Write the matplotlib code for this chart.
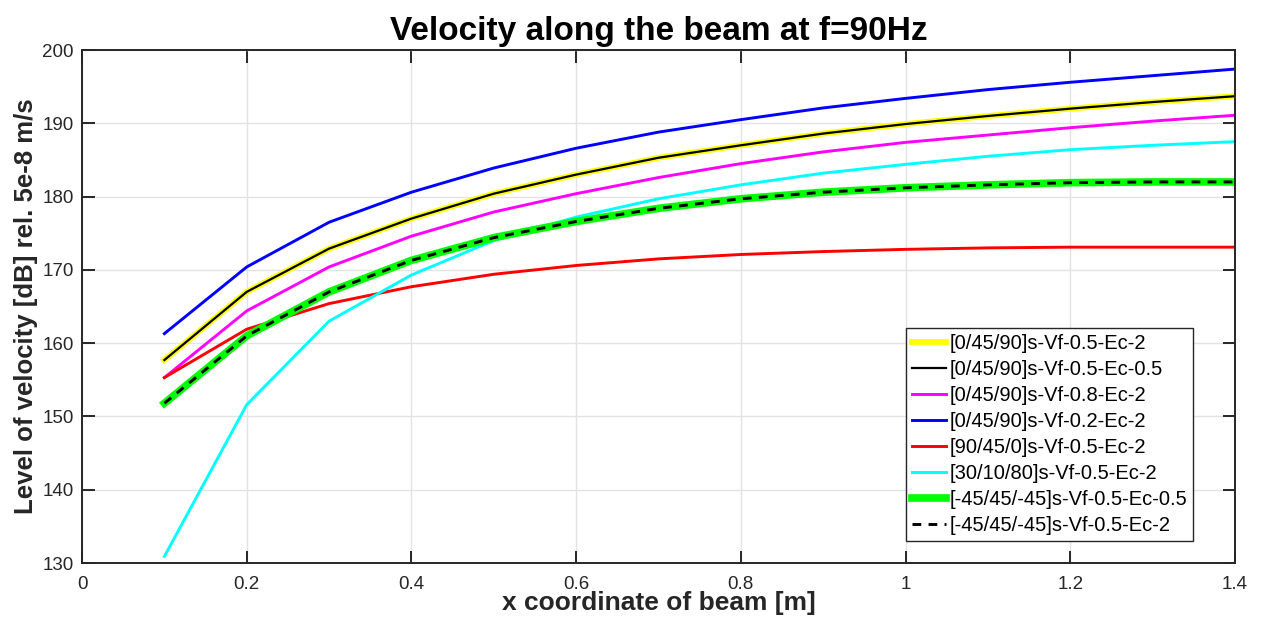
import matplotlib
matplotlib.use("Agg")
import matplotlib.pyplot as plt
from matplotlib.ticker import MultipleLocator

x = [0.1, 0.2, 0.3, 0.4, 0.5, 0.6, 0.7, 0.8, 0.9, 1.0, 1.1, 1.2, 1.3, 1.4]

v_0_45_90_vf05_ec2 = [157.7, 167.0, 172.9, 177.0, 180.4, 183.0, 185.3, 187.0, 188.6, 189.9, 191.0, 192.0, 192.9, 193.7]
v_0_45_90_vf05_ec05 = [157.7, 167.0, 172.9, 177.0, 180.4, 183.0, 185.3, 187.0, 188.6, 189.9, 191.0, 192.0, 192.9, 193.7]
v_0_45_90_vf08_ec2 = [155.3, 164.4, 170.4, 174.6, 177.9, 180.4, 182.6, 184.5, 186.1, 187.4, 188.4, 189.4, 190.3, 191.1]
v_0_45_90_vf02_ec2 = [161.3, 170.4, 176.5, 180.6, 183.9, 186.6, 188.8, 190.5, 192.1, 193.4, 194.6, 195.6, 196.5, 197.4]
v_90_45_0_vf05_ec2 = [155.3, 161.9, 165.4, 167.7, 169.4, 170.6, 171.5, 172.1, 172.5, 172.8, 173.0, 173.1, 173.1, 173.1]
v_30_10_80_vf05_ec2 = [130.9, 151.6, 163.0, 169.3, 174.0, 177.2, 179.7, 181.6, 183.2, 184.4, 185.5, 186.4, 187.0, 187.5]
v_m45_45_m45_vf05_ec05 = [151.8, 161.0, 167.0, 171.3, 174.4, 176.6, 178.4, 179.7, 180.6, 181.2, 181.6, 181.9, 182.0, 182.0]
v_m45_45_m45_vf05_ec2 = [151.8, 161.0, 167.0, 171.3, 174.4, 176.6, 178.4, 179.7, 180.6, 181.2, 181.6, 181.9, 182.0, 182.0]

labels = ["[0/45/90]s-Vf-0.5-Ec-2", "[0/45/90]s-Vf-0.5-Ec-0.5", "[0/45/90]s-Vf-0.8-Ec-2",
          "[0/45/90]s-Vf-0.2-Ec-2", "[90/45/0]s-Vf-0.5-Ec-2", "[30/10/80]s-Vf-0.5-Ec-2",
          "[-45/45/-45]s-Vf-0.5-Ec-0.5", "[-45/45/-45]s-Vf-0.5-Ec-2"]

plt.rcParams['font.family'] = ['Liberation Sans', 'DejaVu Sans']

dark = (0.15, 0.15, 0.15)
fig = plt.figure(figsize=(12.62, 6.23), dpi=100)
ax = fig.add_axes([0.065, 0.0963, 0.9136, 0.8234])

ax.plot(x, v_0_45_90_vf05_ec2, color=(1, 1, 0), lw=4.2, label=labels[0])
ax.plot(x, v_0_45_90_vf05_ec05, color='black', lw=1.6, label=labels[1])
ax.plot(x, v_0_45_90_vf08_ec2, color=(1, 0, 1), lw=2.1, label=labels[2])
ax.plot(x, v_0_45_90_vf02_ec2, color=(0, 0, 1), lw=2.1, label=labels[3])
ax.plot(x, v_90_45_0_vf05_ec2, color=(1, 0, 0), lw=2.1, label=labels[4])
ax.plot(x, v_30_10_80_vf05_ec2, color=(0, 1, 1), lw=2.1, label=labels[5])
ax.plot(x, v_m45_45_m45_vf05_ec05, color=(0, 1, 0), lw=5.5, label=labels[6])
ax.plot(x, v_m45_45_m45_vf05_ec2, color='black', lw=2.1, ls=(0, (3, 2.5)), label=labels[7])

ax.set_xlim(0, 1.4)
ax.set_ylim(130, 200)
ax.xaxis.set_major_locator(MultipleLocator(0.2))
ax.yaxis.set_major_locator(MultipleLocator(10))
ax.set_xticklabels([f"{v:g}" for v in ax.get_xticks()])
ax.grid(True, color=(0.89, 0.89, 0.89), lw=1.0)
ax.set_axisbelow(True)
ax.tick_params(direction='in', top=True, right=True, length=9, width=1.4,
               color=dark, labelsize=13.5, labelcolor=dark)
ax.tick_params(axis='x', pad=9)
ax.tick_params(axis='y', pad=6)
for s in ax.spines.values():
    s.set_color(dark)
    s.set_linewidth(1.4)

ax.set_title("Velocity along the beam at f=90Hz", fontsize=24, fontweight='bold', pad=7)
ax.set_xlabel("x coordinate of beam [m]", fontsize=19, fontweight='bold', color=dark, labelpad=-1)
ax.set_ylabel("Level of velocity [dB] rel. 5e-8 m/s", fontsize=18.5, fontweight='bold', color=dark, labelpad=3)

leg = ax.legend(loc='lower right', bbox_to_anchor=(0.9636, 0.043), fontsize=14.5, frameon=True,
                fancybox=False, edgecolor=dark, framealpha=1,
                handlelength=1.7, handletextpad=0.15, labelspacing=0.35, borderpad=0.3, borderaxespad=0)
leg.get_frame().set_linewidth(1.0)

fig.savefig("out.png", dpi=100)
